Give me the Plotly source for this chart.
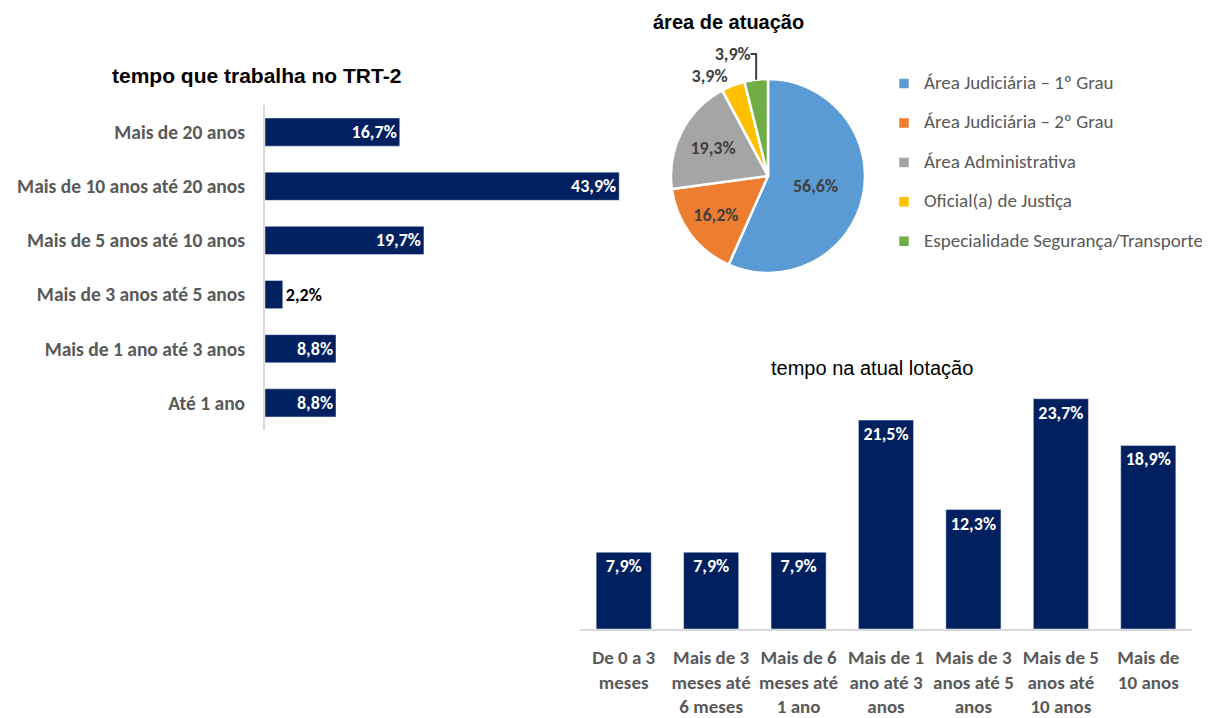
import plotly.graph_objects as go

# ---- data ----
trt_categorias = ["Até 1 ano", "Mais de 1 ano até 3 anos", "Mais de 3 anos até 5 anos",
                  "Mais de 5 anos até 10 anos", "Mais de 10 anos até 20 anos", "Mais de 20 anos"]
trt_valores = [8.8, 8.8, 2.2, 19.7, 43.9, 16.7]

area_labels = ["Área Judiciária – 1º Grau", "Área Judiciária – 2º Grau", "Área Administrativa",
               "Oficial(a) de Justiça", "Especialidade Segurança/Transporte"]
area_valores = [56.6, 16.2, 19.3, 3.9, 3.9]
area_cores = ["#5B9BD5", "#ED7D31", "#A5A5A5", "#FFC000", "#70AD47"]

lot_categorias = ["De 0 a 3<br>meses", "Mais de 3<br>meses até<br>6 meses", "Mais de 6<br>meses até<br>1 ano",
                  "Mais de 1<br>ano até 3<br>anos", "Mais de 3<br>anos até 5<br>anos",
                  "Mais de 5<br>anos até<br>10 anos", "Mais de<br>10 anos"]
lot_valores = [7.9, 7.9, 7.9, 21.5, 12.3, 23.7, 18.9]

NAVY = "#002060"
GRAY_TXT = "#595959"
FONT = "Carlito, Calibri, Lato, sans-serif"
ARIAL = "Liberation Sans, Arial, sans-serif"

W, H, OFF = 1210, 718, 8  # page body margin offset


def px(x):
    return (x - OFF) / W


def py(y):
    return 1 - (y - OFF) / H


fig = go.Figure()

# left horizontal bars
pos = ["outside" if v < 5 else "inside" for v in trt_valores]
fig.add_trace(go.Bar(
    x=trt_valores, y=trt_categorias, orientation="h", marker_color=NAVY, width=0.52,
    texttemplate="%{x:.1f}%", textposition=pos, insidetextanchor="end",
    insidetextfont=dict(family=FONT, size=18, color="white", weight="bold"),
    outsidetextfont=dict(family=FONT, size=18, color="black", weight="bold"),
    cliponaxis=False, xaxis="x", yaxis="y", showlegend=False,
))

# pie
fig.add_trace(go.Pie(
    labels=['<span style="font-size:19px">' + l + "</span><br>\u00a0" for l in area_labels],
    values=area_valores, sort=False,
    direction="clockwise", rotation=0,
    marker=dict(colors=area_cores, line=dict(color="white", width=2.5)),
    texttemplate="%{value:.1f}%",
    textposition=["inside", "inside", "inside", "outside", "outside"],
    insidetextorientation="horizontal",
    insidetextfont=dict(family=FONT, size=18, color="#404040", weight="bold"),
    outsidetextfont=dict(family=FONT, size=18, color="#404040", weight="bold"),
    domain=dict(x=[px(671), px(865)], y=[py(273), py(79)]),
    hovertemplate="%{value}%<extra></extra>",
))

# bottom right vertical bars
fig.add_trace(go.Bar(
    x=lot_categorias, y=lot_valores, marker_color=NAVY, width=0.63,
    texttemplate="%{y:.1f}%", textposition="inside", insidetextanchor="end",
    insidetextfont=dict(family=FONT, size=18, color="white", weight="bold"),
    xaxis="x2", yaxis="y2", showlegend=False,
))

fig.update_layout(
    width=W, height=H, margin=dict(l=0, r=0, t=0, b=0),
    paper_bgcolor="white", plot_bgcolor="white", separators=",.",
    font=dict(family=FONT, color=GRAY_TXT),
    xaxis=dict(domain=[px(265), px(641)], range=[0, 46.6], visible=False, fixedrange=True),
    yaxis=dict(domain=[py(430), py(105)], categoryorder="array", categoryarray=trt_categorias,
               showline=True, linecolor="#D9D9D9", linewidth=2, showgrid=False, ticks="",
               ticklabelstandoff=14, tickfont=dict(family=FONT, size=19.5, color=GRAY_TXT, weight="bold"),
               automargin=False, anchor="x"),
    xaxis2=dict(domain=[px(580), px(1192)], anchor="y2", showline=True, linecolor="#D9D9D9",
                linewidth=2, ticks="", ticklabelstandoff=10, automargin=False,
                tickfont=dict(family=FONT, size=19, color=GRAY_TXT, weight="bold"), tickangle=0),
    yaxis2=dict(domain=[py(629), py(390)], range=[0, 24.6], visible=False, anchor="x2"),
    legend=dict(x=px(884), y=py(68), xanchor="left", yanchor="top", valign="top",
                font=dict(family=FONT, size=14, color=GRAY_TXT), bgcolor="rgba(0,0,0,0)"),
    annotations=[
        dict(text="<b>tempo que trabalha no TRT-2</b>", x=px(256), y=py(75), xref="paper",
             yref="paper", xanchor="center", yanchor="middle", showarrow=False,
             font=dict(family=ARIAL, size=21, color="black")),
        dict(text="<b>área de atuação</b>", x=px(728), y=py(22), xref="paper",
             yref="paper", xanchor="center", yanchor="middle", showarrow=False,
             font=dict(family=ARIAL, size=20, color="black")),
        dict(text="tempo na atual lotação", x=px(872), y=py(368), xref="paper",
             yref="paper", xanchor="center", yanchor="middle", showarrow=False,
             font=dict(family=ARIAL, size=20, color="black")),
    ],
)

fig.write_html("out.html")
